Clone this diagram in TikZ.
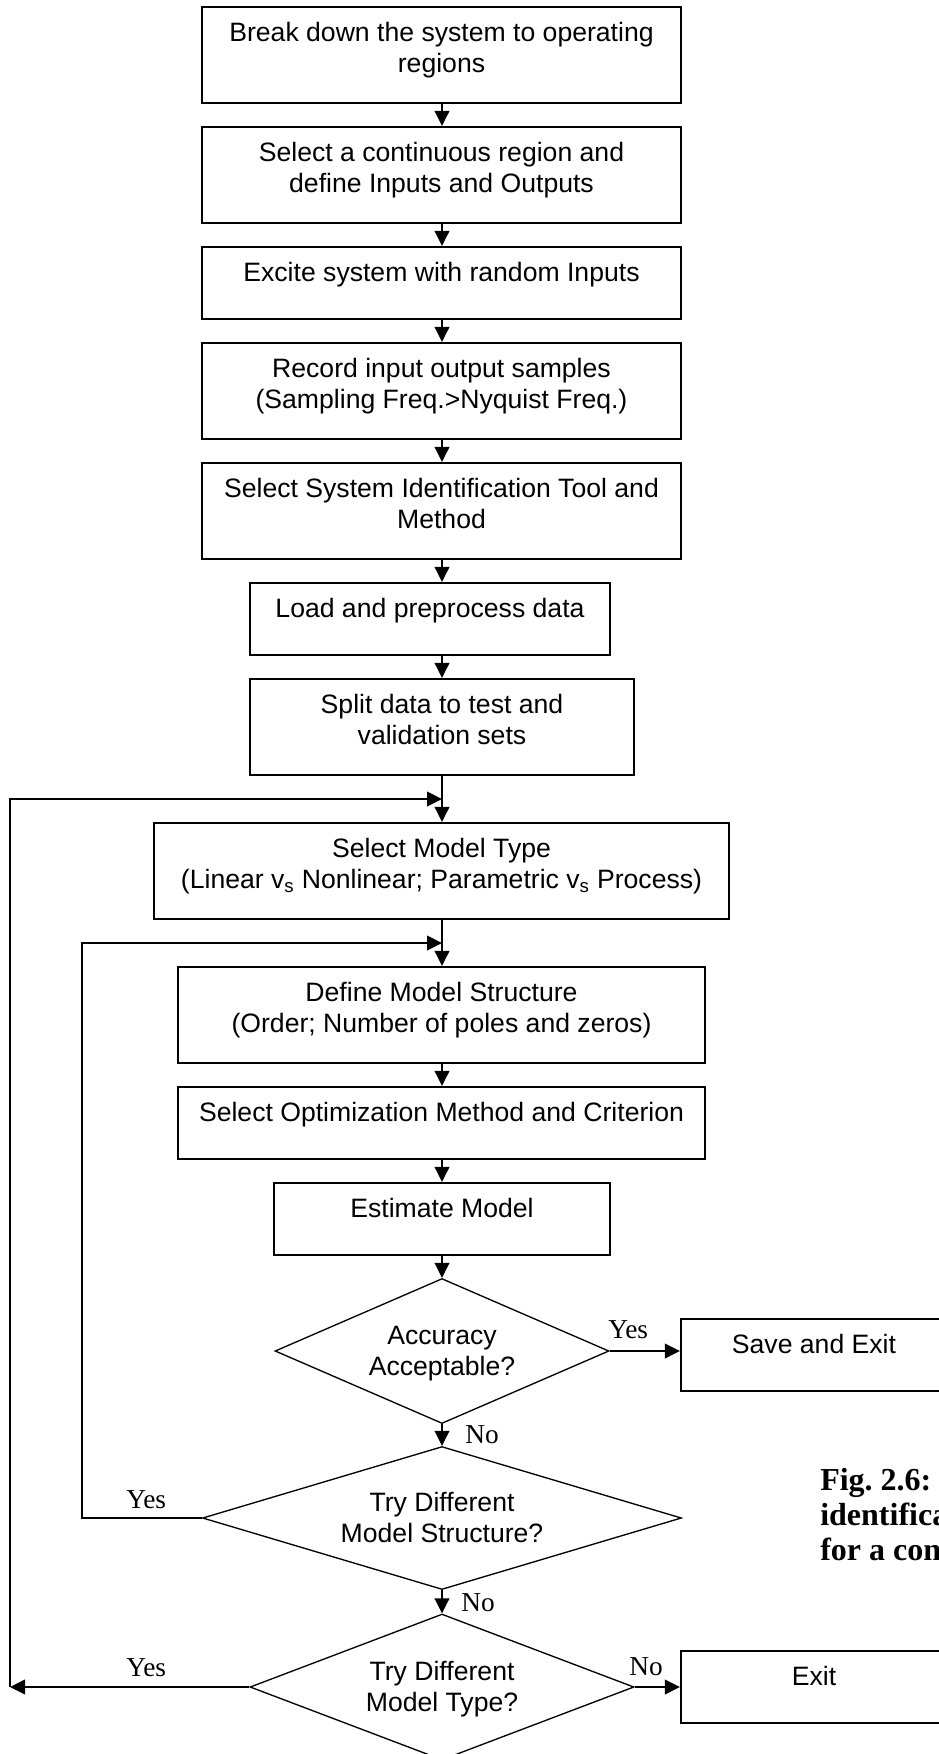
\documentclass[tikz,border=0pt]{standalone}
\usepackage{fontspec}
\setmainfont{Liberation Serif}
\newfontfamily\arialfont{Liberation Sans}
\usetikzlibrary{shapes.geometric,arrows.meta}
\newdimen\pxu \pxu=0.75pt
\begin{document}
\begin{tikzpicture}[x=0.75pt,y=-0.75pt,
  stepbox/.style={draw, line width=1.7pt, inner sep=0pt, rectangle},
  decision/.style={draw, diamond, line width=1pt, inner sep=0pt},
  boxtext/.style={anchor=north, inner sep=0pt, align=center,
    font=\arialfont\fontsize{19.95}{22.9}\selectfont, yshift=-14.1\pxu},
  dtext/.style={inner sep=0pt, align=center,
    font=\arialfont\fontsize{19.95}{22.9}\selectfont, yshift=-3\pxu},
  answer/.style={anchor=base west, inner sep=0pt, font=\fontsize{20.5}{23}\selectfont},
  conn/.style={line width=1.4pt, -{Triangle[length=11.25pt,width=11pt]}},
]
\useasboundingbox (0,0) rectangle (939,1754);
\clip (0,0) rectangle (939,1754);

% main column through which the vertical connectors run
\coordinate (col) at (442,0);

% process boxes
\node[stepbox, minimum width=479\pxu, minimum height=96\pxu] (b1) at (441.5,55) {};
\node[stepbox, minimum width=479\pxu, minimum height=96\pxu] (b2) at (441.5,175) {};
\node[stepbox, minimum width=479\pxu, minimum height=72\pxu] (b3) at (441.5,283) {};
\node[stepbox, minimum width=479\pxu, minimum height=96\pxu] (b4) at (441.5,391) {};
\node[stepbox, minimum width=479\pxu, minimum height=96\pxu] (b5) at (441.5,511) {};
\node[stepbox, minimum width=360\pxu, minimum height=72\pxu] (b6) at (430,619) {};
\node[stepbox, minimum width=384\pxu, minimum height=96\pxu] (b7) at (442,727) {};
\node[stepbox, minimum width=575\pxu, minimum height=96\pxu] (b8) at (441.5,871) {};
\node[stepbox, minimum width=527\pxu, minimum height=96\pxu] (b9) at (441.5,1015) {};
\node[stepbox, minimum width=527\pxu, minimum height=72\pxu] (b10) at (441.5,1123) {};
\node[stepbox, minimum width=336\pxu, minimum height=72\pxu] (b11) at (442,1219) {};
\node[stepbox, minimum width=266\pxu, minimum height=72\pxu] (save) at (814,1355) {};
\node[stepbox, minimum width=266\pxu, minimum height=72\pxu] (exit) at (814,1687) {};

% box texts
\node[boxtext] (t1) at (b1.north) {\strut Break down the system to operating\\\strut regions};
\node[boxtext] (t2) at (b2.north) {\strut Select a continuous region and\\\strut define Inputs and Outputs};
\node[boxtext] (t3) at (b3.north) {\strut Excite system with random Inputs};
\node[boxtext] (t4) at (b4.north) {\strut Record input output samples\\\strut (Sampling Freq.>Nyquist Freq.)};
\node[boxtext] (t5) at (b5.north) {\strut Select System Identification Tool and\\\strut Method};
\node[boxtext] (t6) at (b6.north) {\strut Load and preprocess data};
\node[boxtext] (t7) at (b7.north) {\strut Split data to test and\\\strut validation sets};
\node[boxtext] (t8) at (b8.north) {\strut Select Model Type\\\strut (Linear v\textsubscript{s} Nonlinear; Parametric v\textsubscript{s} Process)};
\node[boxtext] (t9) at (b9.north) {\strut Define Model Structure\\\strut (Order; Number of poles and zeros)};
\node[boxtext] (t10) at (b10.north) {\strut Select Optimization Method and Criterion};
\node[boxtext] (t11) at (b11.north) {\strut Estimate Model};
\node[boxtext] (tsave) at (save.north) {\strut Save and Exit};
\node[boxtext] (texit) at (exit.north) {\strut Exit};

% decisions
\node[decision, minimum width=334\pxu, minimum height=145\pxu] (d1) at (442,1351) {};
\node[decision, minimum width=479\pxu, minimum height=143\pxu] (d2) at (442,1518) {};
\node[decision, minimum width=384\pxu, minimum height=146\pxu] (d3) at (442,1687) {};
\node[dtext] (td1) at (d1.center) {\strut Accuracy\\\strut Acceptable?};
\node[dtext] (td2) at (d2.center) {\strut Try Different\\\strut Model Structure?};
\node[dtext] (td3) at (d3.center) {\strut Try Different\\\strut Model Type?};

% junctions and loop corners
\coordinate (j1) at (442,799);
\coordinate (j2) at (442,943);
\coordinate (c1) at (10,1687);
\coordinate (c1top) at (10,799);
\coordinate (c2) at (82,943);

% main flow
\draw[conn] (b1.south -| col) -- (b2.north -| col);
\draw[conn] (b2.south -| col) -- (b3.north -| col);
\draw[conn] (b3.south -| col) -- (b4.north -| col);
\draw[conn] (b4.south -| col) -- (b5.north -| col);
\draw[conn] (b5.south -| col) -- (b6.north -| col);
\draw[conn] (b6.south -| col) -- (b7.north -| col);
\draw[conn] (b7.south -| col) -- (b8.north -| col);
\draw[conn] (b8.south -| col) -- (b9.north -| col);
\draw[conn] (b9.south -| col) -- (b10.north -| col);
\draw[conn] (b10.south -| col) -- (b11.north -| col);
\draw[conn] (b11.south -| col) -- (d1.north);
\draw[conn] (d1.south) -- (d2.north);
\draw[conn] (d2.south) -- (d3.north);
\draw[conn] (d1.east) -- (d1.east -| save.west);
\draw[conn] (d3.east) -- (d3.east -| exit.west);

% feedback loops
\draw[conn] (d2.west) -| (c2) -- (j2);
\draw[conn] (d3.west) -- (c1);
\draw[conn] (c1) -- (c1top) -- (j1);

% branch labels
\node[answer] (ly1) at (608,1338) {Yes};
\node[answer] (ln1) at (465,1443) {No};
\node[answer] (ly2) at (126,1508) {Yes};
\node[answer] (ln2) at (461,1611) {No};
\node[answer] (ly3) at (126,1676) {Yes};
\node[answer] (ln3) at (629,1675) {No};

% figure caption (runs off the right edge)
\node[anchor=north west, inner sep=0pt, align=left,
  font=\bfseries\fontsize{24}{26.25}\selectfont] (cap) at (820,1465.5)
  {\strut Fig.\ 2.6:\\\strut identifica\\\strut for a con};
\end{tikzpicture}
\end{document}
